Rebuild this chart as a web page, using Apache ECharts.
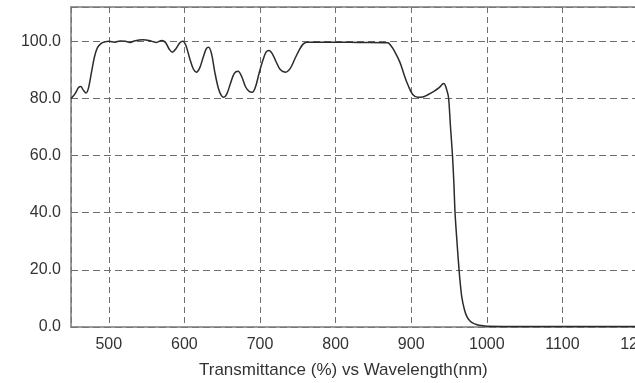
<!DOCTYPE html>
<html>
<head>
<meta charset="utf-8">
<script src="https://cdn.jsdelivr.net/npm/echarts@6/dist/echarts.min.js"></script>
<style>
html,body{margin:0;padding:0;background:#fff;}
#c{width:635px;height:383px;}
</style>
</head>
<body>
<div id="c"></div>
<script>
const wavelength = [450,455,460,463,466,470,473,477,481,485,490,495,500,508,515,522,528,535,545,553,563,570,575,580,584,589,594,598,602,607,612,616,620,625,629,632,636,640,645,649,652,656,661,666,671,676,681,686,690,694,699,704,708,712,716,721,727,734,740,746,752,757,762,780,800,830,869,873,878,885,891,896,902,909,915,922,930,937,943,945,947,949,950,952,954.6,956.5,958,960.5,963.3,965,967,970,973,978,984,990,1000,1050,1100,1150,1200];
const transmittance = [80.0,81.5,83.8,84.2,83.0,81.9,83.5,89,94.5,97.8,99.3,99.8,100.0,99.7,100.1,100.0,99.6,100.2,100.5,100.3,99.6,100.3,99.6,97.2,96.2,97.5,99.5,100.0,98.5,94,90.2,89.2,90.5,94.5,97.4,97.9,95.5,89.5,83.5,81.0,80.4,81.5,85.3,88.8,89.5,87.5,84.0,82.4,82.2,84.0,89.0,93.5,96.2,96.8,95.8,93.0,90.0,89.2,90.5,93.8,97.0,99.0,99.7,99.7,99.7,99.6,99.5,98.5,96.5,92.7,88,84.5,81.4,80.4,80.5,81.3,82.5,83.8,85.2,84.6,83.0,81.0,78.5,70,60,50,40,30,20,15,10.4,6.5,4.0,2.0,1.1,0.6,0.3,0.2,0.2,0.2,0.2];
const xTitle = 'Transmittance (%) vs Wavelength(nm)';

const FONT = '"Liberation Sans", Arial, sans-serif';
const chart = echarts.init(document.getElementById('c'), null, {renderer:'canvas'});
const data = wavelength.map((w,i)=>[w, transmittance[i]]);
chart.setOption({
  animation:false,
  backgroundColor:'#fff',
  grid:{left:71, top:7, width:567, height:320, containLabel:false, outerBoundsMode:'none'},
  xAxis:[{
    type:'value', min:450, max:1200, splitNumber:8,
    axisLine:{show:true, lineStyle:{color:'#7a7a7a', width:1.5}},
    axisTick:{show:false},
    axisLabel:{color:'#333', fontFamily:FONT, fontSize:16, margin:10, showMinLabel:false, hideOverlap:false,
      formatter:v=> (v%100===0 ? String(v) : '')},
    splitLine:{show:true, lineStyle:{color:'#6e6e6e', type:[6,4], width:1}}
  },{
    type:'value', position:'top', min:450, max:1200,
    axisLine:{show:true, lineStyle:{color:'#7a7a7a', width:1.5}},
    axisTick:{show:false}, axisLabel:{show:false}, splitLine:{show:false}
  }],
  yAxis:{
    type:'value', min:0, max:112, interval:20,
    axisLine:{show:true, lineStyle:{color:'#7a7a7a', width:1.5}},
    axisTick:{show:false},
    axisLabel:{color:'#333', fontFamily:FONT, fontSize:16, margin:10, showMaxLabel:false,
      formatter:v=> (v%20===0 ? v.toFixed(1) : '')},
    splitLine:{show:true, lineStyle:{color:'#6e6e6e', type:[7,4], width:1}}
  },
  graphic:[{
    type:'text', left:199, top:362,
    style:{text:xTitle, fill:'#333', font:'17px ' + FONT}
  }],
  series:[{
    type:'line', data:data, showSymbol:false, smooth:0.35,
    lineStyle:{color:'#2b2b2b', width:1.5}, z:5
  }]
});
</script>
</body>
</html>
